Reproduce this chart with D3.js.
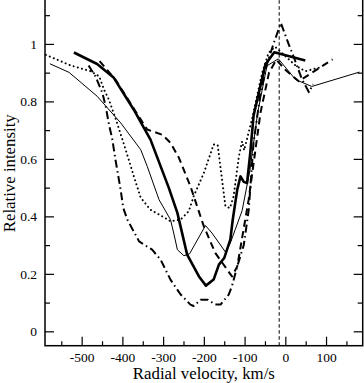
<!DOCTYPE html>
<html>
<head>
<meta charset="utf-8">
<script src="https://cdn.jsdelivr.net/npm/d3@7"></script>
<style>
  html, body { margin: 0; padding: 0; background: #fff; }
  svg { display: block; }
  .axis path { display: none; }
  .axis line { stroke: #000; stroke-width: 1.2; }
  text.serif { font-family: "Liberation Serif", "DejaVu Serif", serif; }
</style>
</head>
<body>
<svg id="chart"></svg>
<script>
// series: [radial velocity km/s, relative intensity]
const thickSolid = [[-519,0.97],[-462,0.93],[-421,0.882],[-372,0.771],[-331,0.667],[-286,0.499],[-265,0.412],
  [-241,0.267],[-212,0.191],[-195,0.159],[-176,0.18],[-163,0.232],[-150,0.255],[-135,0.319],[-129,0.389],
  [-118,0.493],[-110,0.539],[-102,0.52],[-94,0.516],[-86,0.621],[-78,0.75],[-49,0.928],[-27,0.971],[49,0.942]];

const thinSolid = [[-578,0.931],[-531,0.901],[-462,0.818],[-404,0.725],[-355,0.632],[-339,0.574],[-310,0.458],
  [-282,0.389],[-274,0.342],[-265,0.284],[-249,0.263],[-235,0.27],[-196,0.368],[-180,0.342],[-147,0.276],
  [-135,0.307],[-123,0.354],[-106,0.42],[-87,0.56],[-68,0.76],[-45,0.924],[-17,0.948],[25,0.876],[65,0.852],[182,0.902]];

const dashed = [[-456,0.94],[-417,0.876],[-368,0.766],[-339,0.702],[-302,0.684],[-282,0.656],[-261,0.603],
  [-233,0.505],[-200,0.365],[-172,0.273],[-131,0.191],[-118,0.226],[-90,0.458],[-61,0.76],[-40,0.9],
  [-22,0.945],[0,0.91],[33,0.87],[116,0.946]];

const dotted = [[-588,0.962],[-527,0.925],[-478,0.905],[-457,0.887],[-445,0.841],[-433,0.806],[-413,0.725],
  [-392,0.632],[-372,0.54],[-355,0.465],[-331,0.423],[-302,0.4],[-282,0.383],[-257,0.389],[-237,0.418],
  [-225,0.47],[-200,0.551],[-176,0.65],[-166,0.648],[-147,0.435],[-136,0.429],[-127,0.47],[-114,0.609],
  [-106,0.661],[-101,0.63],[-82,0.737],[-57,0.899],[-41,0.969],[-25,0.99],[25,0.925],[49,0.905],[90,0.92]];

const dashDot = [[-483,0.925],[-466,0.887],[-449,0.829],[-441,0.783],[-433,0.72],[-425,0.67],[-417,0.597],
  [-404,0.49],[-398,0.43],[-388,0.389],[-359,0.313],[-327,0.284],[-306,0.249],[-282,0.18],[-257,0.128],
  [-233,0.093],[-225,0.088],[-208,0.11],[-190,0.11],[-172,0.093],[-159,0.093],[-139,0.128],[-131,0.157],
  [-118,0.226],[-102,0.3],[-90,0.42],[-78,0.655],[-61,0.829],[-45,0.93],[-29,1.0],[-11,1.073],[8,1.0],
  [20,0.957],[40,0.88],[58,0.832],[68,0.86]];

const restVelocity = -15;
const xTicks = [-500, -400, -300, -200, -100, 0, 100];
const xMinor = [-550, -450, -350, -250, -150, -50, 50, 150];
const yTicks = [0, 0.2, 0.4, 0.6, 0.8, 1];
const yMinor = [0.1, 0.3, 0.5, 0.7, 0.9, 1.1];

const W = 364, H = 383;
const plot = { left: 45, right: 362.7, top: 0.8, bottom: 345.7 };

const svg = d3.select("#chart").attr("width", W).attr("height", H);

const x = d3.scaleLinear().domain([-590, 190]).range([plot.left, plot.right]);
const y = d3.scaleLinear().domain([-0.05, 1.15]).range([plot.bottom, plot.top]);

const fmt = d => String(d);

// d3 axes put font-family on the <g>; drop it so the serif rule applies
const styleLabels = g => {
  g.attr("font-family", null).attr("font-size", null);
  g.selectAll("text")
    .classed("serif", true)
    .attr("font-family", "Liberation Serif")
    .attr("font-size", 13.5)
    .attr("fill", "#000");
};

// axes with inward ticks
svg.append("g").attr("class", "axis")
  .attr("transform", `translate(0,${plot.bottom})`)
  .call(d3.axisBottom(x).tickValues(xTicks).tickSize(-9).tickPadding(7).tickFormat(fmt))
  .call(styleLabels);
svg.append("g").attr("class", "axis")
  .attr("transform", `translate(0,${plot.bottom})`)
  .call(d3.axisBottom(x).tickValues(xMinor).tickSize(-4.5).tickFormat(""));

svg.append("g").attr("class", "axis")
  .attr("transform", `translate(${plot.left},0)`)
  .call(d3.axisLeft(y).tickValues(yTicks).tickSize(-9).tickPadding(8).tickFormat(fmt))
  .call(styleLabels);
svg.append("g").attr("class", "axis")
  .attr("transform", `translate(${plot.left},0)`)
  .call(d3.axisLeft(y).tickValues(yMinor).tickSize(-5).tickFormat(""));

svg.append("g").attr("class", "axis")
  .attr("transform", `translate(${plot.right},0)`)
  .call(d3.axisRight(y).tickValues(yTicks).tickSize(-9).tickFormat(""));
svg.append("g").attr("class", "axis")
  .attr("transform", `translate(${plot.right},0)`)
  .call(d3.axisRight(y).tickValues(yMinor).tickSize(-5).tickFormat(""));

// frame (top edge falls outside the picture)
svg.append("rect")
  .attr("x", plot.left).attr("y", -2)
  .attr("width", plot.right - plot.left).attr("height", plot.bottom + 2)
  .attr("fill", "none").attr("stroke", "#000").attr("stroke-width", 1.5);

// rest velocity marker
svg.append("line")
  .attr("x1", x(restVelocity)).attr("x2", x(restVelocity))
  .attr("y1", plot.bottom).attr("y2", 0)
  .attr("stroke", "#000").attr("stroke-width", 1).attr("stroke-dasharray", "3.5,2.5");

const line = d3.line().x(d => x(d[0])).y(d => y(d[1]));

const styles = [
  { data: thinSolid, width: 1, dash: null },
  { data: dotted, width: 2, dash: "0.1,4.2", cap: "round" },
  { data: dashed, width: 2, dash: "7,4.5" },
  { data: dashDot, width: 2, dash: "8,3.5,1.5,3.5" },
  { data: thickSolid, width: 2.6, dash: null }
];

svg.append("g").selectAll("path")
  .data(styles)
  .join("path")
  .attr("d", d => line(d.data))
  .attr("fill", "none")
  .attr("stroke", "#000")
  .attr("stroke-width", d => d.width)
  .attr("stroke-linejoin", "round")
  .attr("stroke-linecap", d => d.cap || "butt")
  .attr("stroke-dasharray", d => d.dash);

// axis titles
svg.append("text").classed("serif", true)
  .attr("x", (plot.left + plot.right) / 2).attr("y", 379)
  .attr("text-anchor", "middle")
  .attr("font-family", "Liberation Serif").attr("font-size", 16.8)
  .text("Radial velocity, km/s");

svg.append("text").classed("serif", true)
  .attr("transform", `translate(15,${(plot.top + plot.bottom) / 2}) rotate(-90)`)
  .attr("text-anchor", "middle")
  .attr("font-family", "Liberation Serif").attr("font-size", 16.8)
  .text("Relative intensity");
</script>
</body>
</html>
